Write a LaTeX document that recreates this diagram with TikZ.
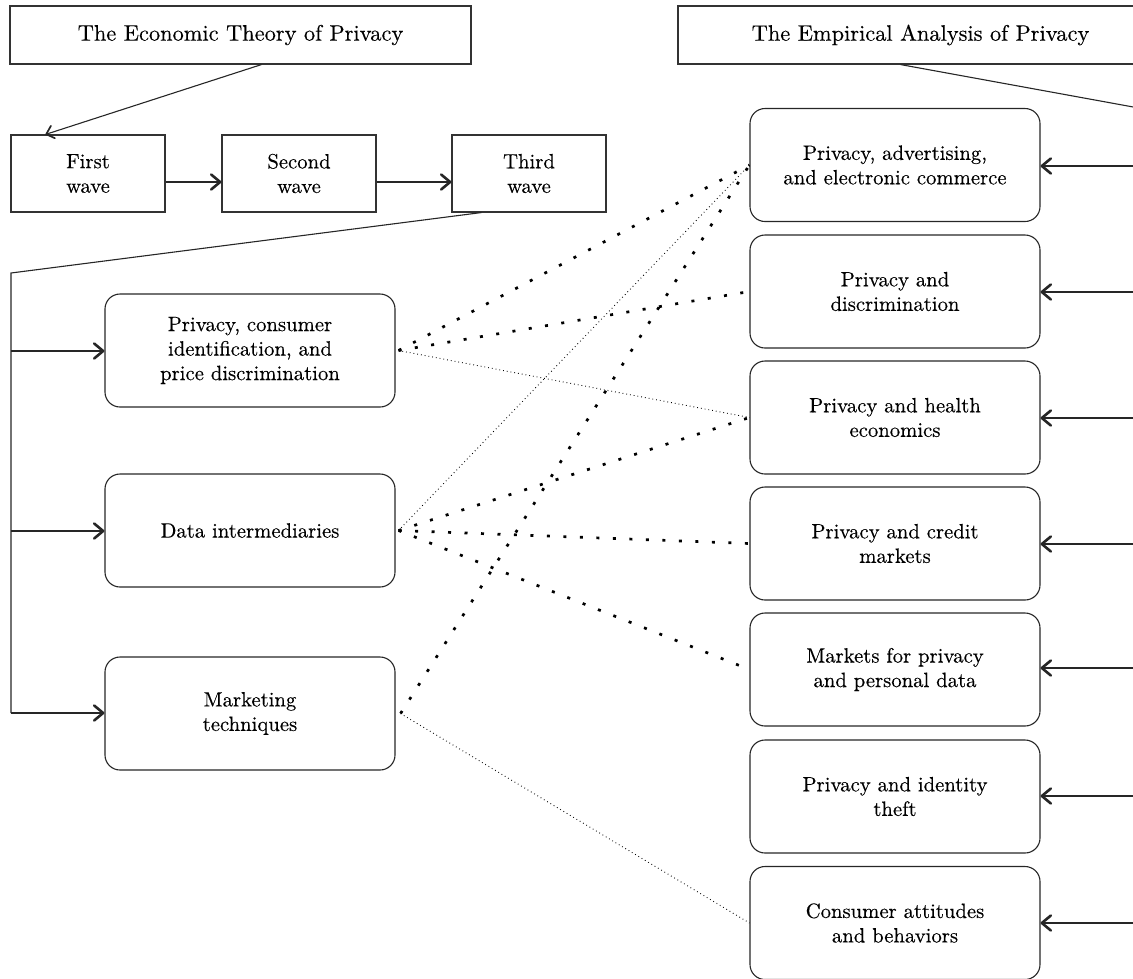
\documentclass[tikz,border=0pt]{standalone}
\usepackage{fontspec}
\setmainfont{lmroman10-regular.otf}[FakeBold=0.3]
\usetikzlibrary{arrows.meta}
\begin{document}
\begin{tikzpicture}[x=1pt,y=-1pt,
  every node/.style={text=black, align=center, inner sep=0pt},
  titlebox/.style={draw=black!80, line width=1.1pt, minimum height=58pt, font=\fontsize{22.4}{27}\selectfont},
  wavebox/.style={draw=black!80, line width=1.1pt, minimum width=154pt, minimum height=77pt, font=\fontsize{20.7}{24.5}\selectfont},
  topic/.style={draw=black!85, line width=1.1pt, rounded corners=15pt, minimum width=290pt, minimum height=113pt, font=\fontsize{20.7}{24.5}\selectfont},
  link/.style={line width=1.1pt, draw=black!85},
  arr/.style={link, -{Straight Barb[length=9pt,width=15pt,line width=2.6pt,round]}},
  arrthin/.style={link, -{Straight Barb[length=7pt,width=13pt,line width=1.7pt,round]}},
  bigdot/.style={line width=2.7pt, draw=black, dash pattern=on 3pt off 13.5pt},
  smalldot/.style={line width=0.9pt, draw=black, dash pattern=on 0.8pt off 3pt}
]
\useasboundingbox (0,0) rectangle (1133,978);

% titles
\node[titlebox, minimum width=461pt] (econ) at (240.5,35) {The Economic Theory of Privacy};
\node[titlebox, minimum width=485pt] (empir) at (920.5,35) {The Empirical Analysis of Privacy};

% waves
\node[wavebox] (w1) at (88,173.5) {First\\wave};
\node[wavebox] (w2) at (299,173.5) {Second\\wave};
\node[wavebox] (w3) at (529,173.5) {Third\\wave};

% theory topics
\node[topic] (p1) at (250,350.5) {Privacy, consumer\\identification, and\\price discrimination};
\node[topic] (p2) at (250,530.5) {Data intermediaries};
\node[topic] (p3) at (250,713.5) {Marketing\\techniques};

% empirical topics
\node[topic] (eA) at (895,165) {Privacy, advertising,\\and electronic commerce};
\node[topic] (eB) at (895,291.5) {Privacy and\\discrimination};
\node[topic] (eC) at (895,417.5) {Privacy and health\\economics};
\node[topic] (eD) at (895,543.5) {Privacy and credit\\markets};
\node[topic] (eE) at (895,669.5) {Markets for privacy\\and personal data};
\node[topic] (eF) at (895,796.5) {Privacy and identity\\theft};
\node[topic] (eG) at (895,923) {Consumer attitudes\\and behaviors};

% coordinates
\coordinate (r1) at (0,182);
\coordinate (lc) at (11,273);
\coordinate (j1) at (11,351);
\coordinate (j2) at (11,531);
\coordinate (j3) at (11,713);
\coordinate (rc) at (1136,107.5);
\coordinate (kA) at (1136,166);
\coordinate (kB) at (1136,292);
\coordinate (kC) at (1136,418);
\coordinate (kD) at (1136,544);
\coordinate (kE) at (1136,668);
\coordinate (kF) at (1136,796);
\coordinate (kG) at (1136,923);

% theory flow
\draw[arrthin] ([xshift=21pt]econ.south) -- ([xshift=35pt]w1.north west);
\draw[arr] (w1.east |- r1) -- (w2.west |- r1);
\draw[arr] (w2.east |- r1) -- (w3.west |- r1);
\draw[link] ([xshift=30pt]w3.south west) -- (lc) -- (j3);
\draw[arr] (j1) -- (p1.west |- j1);
\draw[arr] (j2) -- (p2.west |- j2);
\draw[arr] (j3) -- (p3.west |- j3);

% empirical flow
\draw[link] ([xshift=-20pt]empir.south) -- (rc) -- (kG);
\foreach \k/\b in {kA/eA,kB/eB,kC/eC,kD/eD,kE/eE,kF/eF,kG/eG}
  \draw[arr] (\k) -- (\b.east |- \k);

% dotted connections
\draw[bigdot] ([xshift=3pt]p1.east) -- (eA.west);
\draw[bigdot] ([xshift=3pt]p1.east) -- (eB.west);
\draw[smalldot] ([xshift=3pt]p1.east) -- (eC.west);
\draw[smalldot] ([xshift=3pt]p2.east) -- (eA.west);
\draw[bigdot] ([xshift=3pt]p2.east) -- (eC.west);
\draw[bigdot] ([xshift=3pt]p2.east) -- (eD.west);
\draw[bigdot] ([xshift=3pt]p2.east) -- (eE.west);
\draw[bigdot] ([xshift=5pt]p3.east) -- (eA.west);
\draw[smalldot] ([xshift=5pt]p3.east) -- (eG.west);
\end{tikzpicture}
\end{document}
